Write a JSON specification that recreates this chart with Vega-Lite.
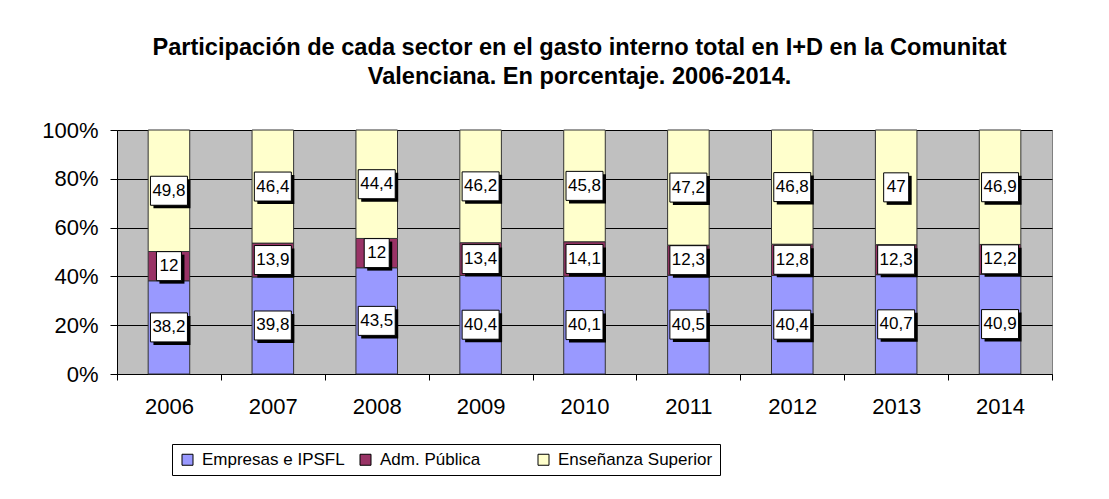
{
  "$schema": "https://vega.github.io/schema/vega-lite/v6.json",
  "width": 935,
  "height": 244,
  "autosize": "none",
  "padding": {"left": 117, "top": 130, "right": 57, "bottom": 125},
  "background": "white",
  "config": {
    "font": "Liberation Sans",
    "view": {"fill": "#C0C0C0", "stroke": "#808080", "strokeWidth": 1}
  },
  "title": {
    "text": ["Participación de cada sector en el gasto interno total en I+D en la Comunitat", "Valenciana. En porcentaje. 2006-2014."],
    "font": "Liberation Sans",
    "fontSize": 23.6,
    "fontWeight": "bold",
    "color": "black",
    "anchor": "middle",
    "lineHeight": 29,
    "offset": 30,
    "dx": -5
  },
  "data": {
    "values": [
      {"year": "2006", "sector": "Empresas e IPSFL", "value": 38.2},
      {"year": "2006", "sector": "Adm. Pública", "value": 12},
      {"year": "2006", "sector": "Enseñanza Superior", "value": 49.8},
      {"year": "2007", "sector": "Empresas e IPSFL", "value": 39.8},
      {"year": "2007", "sector": "Adm. Pública", "value": 13.9},
      {"year": "2007", "sector": "Enseñanza Superior", "value": 46.4},
      {"year": "2008", "sector": "Empresas e IPSFL", "value": 43.5},
      {"year": "2008", "sector": "Adm. Pública", "value": 12},
      {"year": "2008", "sector": "Enseñanza Superior", "value": 44.4},
      {"year": "2009", "sector": "Empresas e IPSFL", "value": 40.4},
      {"year": "2009", "sector": "Adm. Pública", "value": 13.4},
      {"year": "2009", "sector": "Enseñanza Superior", "value": 46.2},
      {"year": "2010", "sector": "Empresas e IPSFL", "value": 40.1},
      {"year": "2010", "sector": "Adm. Pública", "value": 14.1},
      {"year": "2010", "sector": "Enseñanza Superior", "value": 45.8},
      {"year": "2011", "sector": "Empresas e IPSFL", "value": 40.5},
      {"year": "2011", "sector": "Adm. Pública", "value": 12.3},
      {"year": "2011", "sector": "Enseñanza Superior", "value": 47.2},
      {"year": "2012", "sector": "Empresas e IPSFL", "value": 40.4},
      {"year": "2012", "sector": "Adm. Pública", "value": 12.8},
      {"year": "2012", "sector": "Enseñanza Superior", "value": 46.8},
      {"year": "2013", "sector": "Empresas e IPSFL", "value": 40.7},
      {"year": "2013", "sector": "Adm. Pública", "value": 12.3},
      {"year": "2013", "sector": "Enseñanza Superior", "value": 47},
      {"year": "2014", "sector": "Empresas e IPSFL", "value": 40.9},
      {"year": "2014", "sector": "Adm. Pública", "value": 12.2},
      {"year": "2014", "sector": "Enseñanza Superior", "value": 46.9}
    ]
  },
  "transform": [
    {"calculate": "indexof(['Empresas e IPSFL', 'Adm. Pública', 'Enseñanza Superior'], datum.sector)", "as": "ord"},
    {"stack": "value", "groupby": ["year"], "sort": [{"field": "ord", "order": "ascending"}], "offset": "normalize", "as": ["v0", "v1"]},
    {"calculate": "(datum.v0 + datum.v1) / 2", "as": "mid"},
    {"calculate": "replace(toString(datum.value), '.', ',')", "as": "label"}
  ],
  "encoding": {
    "x": {
      "field": "year",
      "type": "nominal",
      "scale": {"paddingInner": 0, "paddingOuter": 0},
      "axis": {
        "title": null,
        "labelAngle": 0,
        "labelFontSize": 22,
        "labelColor": "black",
        "labelPadding": 16,
        "tickBand": "extent",
        "tickSize": 6,
        "tickColor": "black",
        "domainColor": "black",
        "grid": false
      }
    }
  },
  "layer": [
    {
      "mark": {"type": "bar", "width": {"band": 0.4}, "stroke": "#333333", "strokeWidth": 1},
      "encoding": {
        "y": {
          "field": "v0",
          "type": "quantitative",
          "scale": {"domain": [0, 1], "nice": false},
          "axis": {
            "title": null,
            "values": [0, 0.2, 0.4, 0.6, 0.8, 1],
            "format": ".0%",
            "labelFontSize": 22,
            "labelColor": "black",
            "labelPadding": 12,
            "tickSize": 7,
            "tickColor": "black",
            "domainColor": "black",
            "grid": true,
            "gridColor": "black",
            "gridWidth": 1,
            "gridOpacity": 1
          }
        },
        "y2": {"field": "v1"},
        "color": {
          "field": "sector",
          "type": "nominal",
          "scale": {
            "domain": ["Empresas e IPSFL", "Adm. Pública", "Enseñanza Superior"],
            "range": ["#9999FF", "#993366", "#FFFFCC"]
          },
          "legend": {
            "title": null,
            "orient": "none",
            "legendX": 55,
            "legendY": 314,
            "direction": "horizontal",
            "strokeColor": "black",
            "fillColor": "white",
            "padding": 7,
            "symbolType": "square",
            "symbolSize": 121,
            "symbolStrokeColor": "black",
            "symbolStrokeWidth": 1,
            "symbolOpacity": 1,
            "labelFontSize": 17,
            "labelLimit": 400,
            "labelColor": "black",
            "labelOffset": 6,
            "gridAlign": "all",
            "columnPadding": -10
          }
        }
      }
    },
    {
      "mark": {"type": "point", "filled": true, "fill": "black", "opacity": 1, "strokeWidth": 0, "xOffset": 3, "yOffset": 3},
      "encoding": {
        "y": {"field": "mid", "type": "quantitative"},
        "size": {"value": 1369},
        "shape": {
          "condition": {"test": "length(datum.label) <= 2", "value": "M-0.676,-0.784H0.676V0.784H-0.676Z"},
          "value": "M-1,-0.784H1V0.784H-1Z"
        }
      }
    },
    {
      "mark": {"type": "point", "filled": true, "fill": "white", "stroke": "black", "strokeWidth": 1, "opacity": 1},
      "encoding": {
        "y": {"field": "mid", "type": "quantitative"},
        "size": {"value": 1369},
        "shape": {
          "condition": {"test": "length(datum.label) <= 2", "value": "M-0.676,-0.784H0.676V0.784H-0.676Z"},
          "value": "M-1,-0.784H1V0.784H-1Z"
        }
      }
    },
    {
      "mark": {"type": "text", "fontSize": 17, "color": "black", "align": "center", "baseline": "middle"},
      "encoding": {
        "y": {"field": "mid", "type": "quantitative"},
        "text": {"field": "label"}
      }
    }
  ]
}
